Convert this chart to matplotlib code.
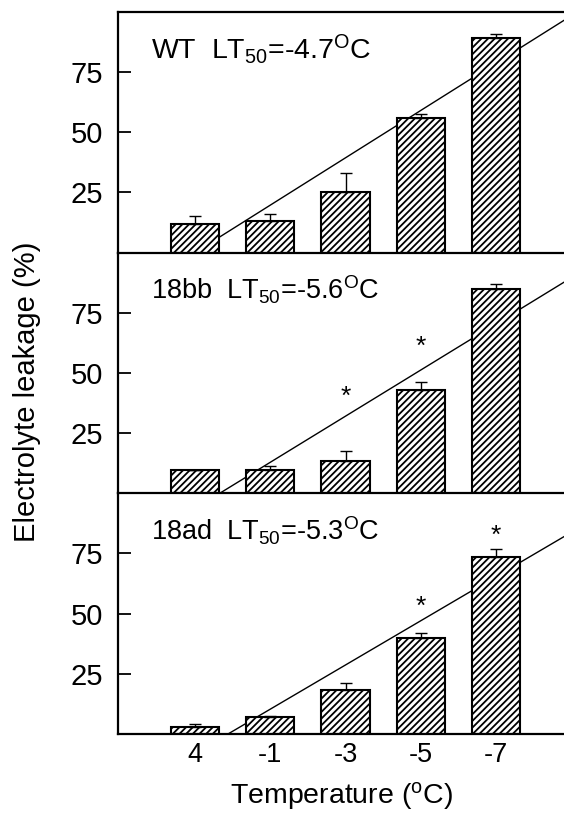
import numpy as np
import matplotlib
matplotlib.use('Agg')
import matplotlib.pyplot as plt

# electrolyte leakage (%), one array per line
temps = ['4', '-1', '-3', '-5', '-7']
wt = [12.0, 13.3, 25.0, 55.8, 89.0]
wt_err = [3.0, 2.9, 8.0, 1.7, 2.0]
bb = [9.6, 9.6, 13.3, 43.0, 85.0]
bb_err = [0.0, 1.7, 4.2, 3.4, 2.0]
ad = [3.0, 7.2, 18.3, 40.0, 73.7]
ad_err = [1.0, 0.4, 2.7, 2.0, 3.0]

# regression line end points (bar index units, % leakage)
wt_fit_x = [1.0, 5.9]
wt_fit_y = [0.0, 96.5]
bb_fit_x = [1.33, 5.9]
bb_fit_y = [0.0, 87.7]
ad_fit_x = [1.44, 5.9]
ad_fit_y = [0.0, 82.0]

# significance stars (bar index, height)
bb_star_x = [3, 4]
bb_star_y = [40.0, 61.0]
ad_star_x = [4, 5]
ad_star_y = [53.0, 82.5]

labels = [r'WT  LT$_{50}$=-4.7$^{\mathrm{O}}$C',
          r'18bb  LT$_{50}$=-5.6$^{\mathrm{O}}$C',
          r'18ad  LT$_{50}$=-5.3$^{\mathrm{O}}$C']

plt.rcParams['font.family'] = ['Liberation Sans', 'DejaVu Sans']
plt.rcParams['mathtext.fontset'] = 'custom'
plt.rcParams['mathtext.rm'] = 'Liberation Sans'
plt.rcParams['mathtext.it'] = 'Liberation Sans:italic'
plt.rcParams['hatch.linewidth'] = 1.3

# draw one panel: line behind hatched bars, one-sided error bars
def panel(ax, vals, errs, fit_x, fit_y, label, fsize, star_x=(), star_y=()):
    x = np.arange(1, len(vals) + 1)
    ax.plot(fit_x, fit_y, color='k', lw=1.0, zorder=1)
    ax.bar(x, vals, width=0.64, color='white', edgecolor='k', hatch='/////',
           linewidth=1.5, zorder=2)
    ax.errorbar(x, vals, yerr=[np.zeros(len(errs)), errs], fmt='none',
                ecolor='k', elinewidth=1.0, capsize=4, capthick=1.0, zorder=3)
    for sx, sy in zip(star_x, star_y):
        ax.text(sx, sy, '*', ha='center', va='center', fontsize=19)
    ax.text(0.42, 80.5, label, fontsize=fsize, ha='left', va='baseline')
    ax.set_xlim(-0.02, 5.9)
    ax.set_ylim(0, 100)
    ax.set_yticks([25, 50, 75])
    ax.tick_params(axis='y', direction='in', length=9, width=1.3,
                   labelsize=21, pad=11)
    ax.spines['right'].set_visible(False)
    for s in ['left', 'bottom', 'top']:
        ax.spines[s].set_linewidth(1.6)
    ax.set_xticks(x)

fig = plt.figure(figsize=(5.64, 8.19), dpi=100)
left = 118 / 564
w = 1 - left
h = 240.7 / 819
b0 = 1 - 734 / 819
ax3 = fig.add_axes([left, b0, w, h])
ax2 = fig.add_axes([left, b0 + h, w, h])
ax1 = fig.add_axes([left, b0 + 2 * h, w, h])

panel(ax1, wt, wt_err, wt_fit_x, wt_fit_y, labels[0], 20.5)
panel(ax2, bb, bb_err, bb_fit_x, bb_fit_y, labels[1], 19.5, bb_star_x, bb_star_y)
panel(ax3, ad, ad_err, ad_fit_x, ad_fit_y, labels[2], 19.5, ad_star_x, ad_star_y)

ax2.spines['top'].set_visible(False)
ax3.spines['top'].set_visible(False)
for ax in [ax1, ax2]:
    ax.tick_params(axis='x', length=0, labelbottom=False)
ax3.tick_params(axis='x', length=0, labelsize=19.5, pad=5.5)
ax3.set_xticklabels(temps)
ax3.set_xlabel(r'Temperature ($^{\mathrm{o}}$C)', fontsize=20.5, labelpad=9)

fig.text(27 / 564, 1 - 392 / 819, 'Electrolyte leakage (%)', rotation=90,
         ha='center', va='center', fontsize=21)

fig.savefig('out.png', dpi=100)
